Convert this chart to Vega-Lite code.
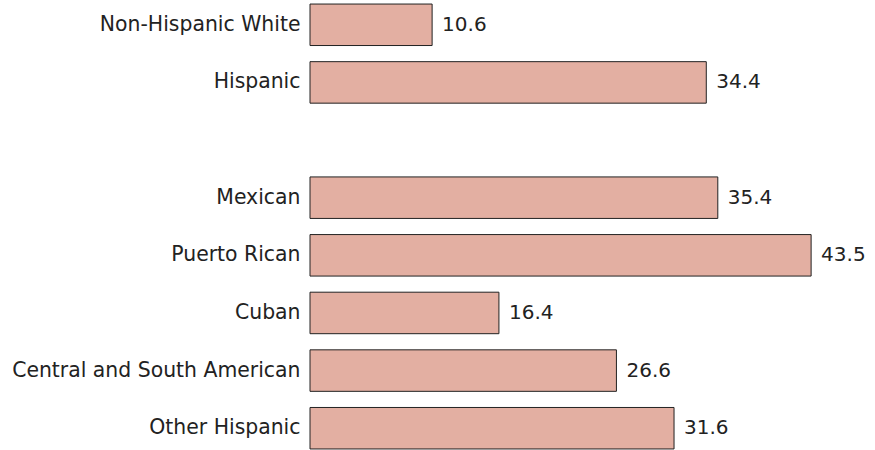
{
  "$schema": "https://vega.github.io/schema/vega-lite/v6.json",
  "autosize": {"type": "none"},
  "padding": {"left": 310, "top": 0, "right": 46.6, "bottom": 0},
  "width": 518.4,
  "height": 453,
  "background": "white",
  "config": {"view": {"stroke": null}, "font": "DejaVu Sans"},
  "data": {
    "values": [
      {"group": "Non-Hispanic White", "value": 10.6},
      {"group": "Hispanic", "value": 34.4},
      {"group": "Mexican", "value": 35.4},
      {"group": "Puerto Rican", "value": 43.5},
      {"group": "Cuban", "value": 16.4},
      {"group": "Central and South American", "value": 26.6},
      {"group": "Other Hispanic", "value": 31.6}
    ]
  },
  "encoding": {
    "y": {
      "field": "group",
      "type": "nominal",
      "scale": {
        "domain": ["Non-Hispanic White", "Hispanic", " ", "Mexican", "Puerto Rican", "Cuban", "Central and South American", "Other Hispanic"],
        "paddingInner": 0.28,
        "paddingOuter": 0.07
      },
      "axis": {
        "title": null,
        "domain": false,
        "ticks": false,
        "labelPadding": 10,
        "labelFontSize": 20.4,
        "labelLimit": 400,
        "labelColor": "#222222",
        "labelFont": "DejaVu Sans"
      }
    },
    "x": {
      "field": "value",
      "type": "quantitative",
      "scale": {"domain": [0, 45], "nice": false},
      "axis": null
    }
  },
  "layer": [
    {"mark": {"type": "bar", "fill": "#e3afa2", "stroke": "#222222", "strokeWidth": 1}},
    {
      "mark": {"type": "text", "align": "left", "baseline": "middle", "dx": 10, "fontSize": 20, "color": "#222222", "font": "DejaVu Sans"},
      "encoding": {"text": {"field": "value", "type": "quantitative", "format": ".1f"}}
    }
  ]
}
